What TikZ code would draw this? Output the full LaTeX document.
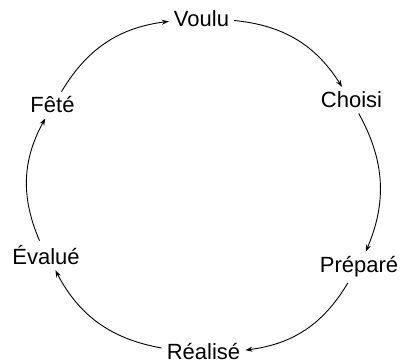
\documentclass[tikz,border=0pt]{standalone}
\usepackage{fontspec}
\setmainfont{Liberation Sans}
\usetikzlibrary{arrows.meta}
\begin{document}
\begin{tikzpicture}[x=1pt,y=1pt,
  lbl/.style={anchor=base,inner sep=5pt,font=\fontsize{22}{26}\selectfont},
  arr/.style={draw,line width=0.9pt,-{Stealth[length=7pt,width=5pt]},bend left=26}]
\useasboundingbox (0,0) rectangle (402,364);
\node[lbl] (v) at (201.5,337) {Voulu};
\node[lbl] (c) at (351.5,256) {Choisi};
\node[lbl] (p) at (359,91) {Préparé};
\node[lbl] (r) at (203.5,4) {Réalisé};
\node[lbl] (e) at (46,99) {Évalué};
\node[lbl] (f) at (52.5,251) {Fêté};
\draw[arr] (v) to (c);
\draw[arr] (c) to (p);
\draw[arr] (p) to (r);
\draw[arr] (r) to (e);
\draw[arr] (e) to (f);
\draw[arr] (f) to (v);
\end{tikzpicture}
\end{document}
